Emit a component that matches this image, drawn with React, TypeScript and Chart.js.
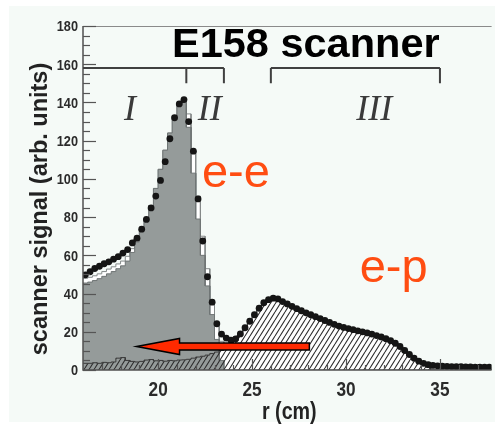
import React, { useEffect, useRef } from "react";
import { Chart, registerables } from "chart.js";

Chart.register(...registerables);

// Histogram binning along the scanner radius (cm)
const BIN_START = 16;
const BIN_WIDTH = 0.25;
const R_MIN = 16;
const R_MAX = 37.75;

// Simulated e-e (Møller) signal per bin
const eeSignal = [
  45.5, 46, 46.8, 47.8, 49, 50.3, 51.5, 53, 54.5, 57, 61.5, 67,
  73.5, 79.5, 86, 95, 105, 115, 124, 133, 139, 142, 127, 103,
  79, 60, 44, 29, 16, 5, 0, 0, 0, 0, 0, 0,
  0, 0, 0, 0, 0, 0, 0, 0, 0, 0, 0, 0,
  0, 0, 0, 0, 0, 0, 0, 0, 0, 0, 0, 0,
  0, 0, 0, 0, 0, 0, 0, 0, 0, 0, 0, 0,
  0, 0, 0, 0, 0, 0, 0, 0, 0, 0, 0, 0,
  0, 0, 0,
];

// Simulated e-p (elastic + inelastic) signal per bin
const epSignal = [
  3.5, 3.5, 3.8, 3.5, 4, 3.8, 4.2, 6.2, 6.5, 5, 4.5, 4.2,
  4.5, 5.2, 5.5, 4.8, 5, 4.6, 5, 4.8, 5.2, 5.3, 5.6, 6.2,
  6.8, 7.2, 7.8, 8.6, 9.4, 10.2, 12, 13.8, 15.2, 18, 21.2, 24.6,
  28, 31.4, 34.3, 35.9, 36.7, 36.3, 35, 33.8, 32.5, 31.3, 30.2, 29.1,
  28.1, 27.1, 26.1, 25.1, 24.1, 23.1, 22.2, 21.5, 20.9, 20.3, 19.7, 19.2,
  18.6, 18, 17.2, 16.5, 15.6, 14.5, 13.2, 11.5, 9.4, 7.3, 5.4, 3.8,
  2.7, 2.0, 0, 0, 0, 0, 0, 0, 0, 0, 0, 0,
  0, 0, 0,
];

// Total simulated signal (outline histogram)
const simTotal = [
  48, 48.5, 49.3, 50.3, 51.5, 52.8, 54, 55.5, 57, 59.5, 63.5, 68.5,
  73.5, 79.5, 86, 95, 105, 115, 124, 133, 139, 142, 134, 115,
  91, 70, 53, 36, 23, 15, 12.3, 13.8, 15.2, 18, 21.2, 24.6,
  28, 31.4, 34.3, 35.9, 36.7, 36.3, 35, 33.8, 32.5, 31.3, 30.2, 29.1,
  28.1, 27.1, 26.1, 25.1, 24.1, 23.1, 22.2, 21.5, 20.9, 20.3, 19.7, 19.2,
  18.6, 18, 17.2, 16.5, 15.6, 14.5, 13.2, 11.5, 9.4, 7.3, 5.4, 3.8,
  2.7, 2.0, 1.2, 1.0, 1.0, 1.0, 1.0, 1.0, 1.0, 1.0, 1.0, 1.0,
  1.0, 1.0, 1.0,
];

// Measured scanner signal at bin centres
const measured = [
  49.8, 51.4, 53.1, 54.3, 55.6, 56.6, 58.0, 59.3, 61.2, 63.0, 66.5, 69.0,
  73.7, 78.8, 84.8, 91.0, 99.2, 109, 121, 132, 139.2, 141.5, 130, 114.5,
  89.5, 67.5, 48.8, 35.5, 24.2, 18.8, 16.7, 15.6, 16.3, 18.9, 22.1, 25.5,
  28.9, 32.3, 35.2, 36.8, 37.6, 37.2, 35.8, 34.6, 33.3, 32.1, 31.0, 29.9,
  28.9, 27.9, 26.9, 25.9, 24.9, 23.9, 23.0, 22.3, 21.7, 21.1, 20.5, 20.0,
  19.4, 18.8, 18.0, 17.3, 16.4, 15.3, 14.0, 12.3, 10.2, 8.1, 6.2, 4.6,
  3.5, 2.8, 2.4, 2.2, 2.0, 1.9, 1.8, 1.7, 1.7, 1.6, 1.6, 1.5,
  1.5, 1.5, 1.5,
];

const xTickValues = [20, 25, 30, 35];
const yTickValues = [0, 20, 40, 60, 80, 100, 120, 140, 160, 180];

// Detector regions: bracket spans and their labels
const bracketLevel = 158;
const bracketDrop = 150;
const brackets = [
  { from: 16, to: 23.5, drops: [21.5, 23.5] },
  { from: 26, to: 35, drops: [26, 35] },
];
const regionLabels = [
  { text: "I", r: 18.5 },
  { text: "II", r: 22.75 },
  { text: "III", r: 31.5 },
];

// Annotation texts
const titleText = "E158 scanner";
const xTitle = "r (cm)";
const yTitle = "scanner signal (arb. units)";
const eeLabel = { text: "e-e", r: 22.33, v: 95.8 };
const epLabel = { text: "e-p", r: 30.73, v: 46.2 };
const arrow = { fromR: 28.05, toR: 18.85, level: 12.3 };

const SANS = "'Liberation Sans', Arial, sans-serif";
const SERIF = "'Liberation Serif', 'Times New Roman', serif";
const NARROW_SCALE = 0.82;
const DOT_COLOR = "#151515";

function stepPoints(values: number[]) {
  const pts: { x: number; y: number }[] = [];
  values.forEach((v, i) => {
    const x0 = BIN_START + i * BIN_WIDTH;
    pts.push({ x: x0, y: v }, { x: x0 + BIN_WIDTH, y: v });
  });
  return pts;
}

function centrePoints(values: number[]) {
  return values.map((v, i) => ({ x: BIN_START + (i + 0.5) * BIN_WIDTH, y: v }));
}

function makeHatch(): CanvasPattern | string {
  const c = document.createElement("canvas");
  const w = 5;
  const h = 8;
  c.width = w;
  c.height = h;
  const g = c.getContext("2d");
  if (!g) return "rgba(0,0,0,0.3)";
  g.strokeStyle = "#2e2e2e";
  g.lineWidth = 1.1;
  g.beginPath();
  for (let k = -1; k <= 1; k++) {
    g.moveTo(k * w, h);
    g.lineTo(k * w + w, 0);
  }
  g.stroke();
  const p = g.createPattern(c, "repeat");
  return p || "rgba(0,0,0,0.3)";
}

// Condensed text: regular face squeezed horizontally
function narrowText(ctx: CanvasRenderingContext2D, text: string, x: number, y: number, align: "left" | "right" | "center") {
  ctx.save();
  ctx.translate(x, y);
  ctx.scale(NARROW_SCALE, 1);
  ctx.textAlign = align;
  ctx.fillText(text, 0, 0);
  ctx.restore();
}

const backgroundPlugin = {
  id: "paper",
  beforeDraw(chart: any) {
    const { ctx, width, height } = chart;
    ctx.save();
    ctx.fillStyle = "#ffffff";
    ctx.fillRect(0, 0, width, height);
    ctx.fillStyle = "#f5faf7";
    ctx.fillRect(9, 6, width - 9, height - 12);
    ctx.restore();
  },
};

const framePlugin = {
  id: "frame",
  afterDatasetsDraw(chart: any) {
    const { ctx, chartArea, scales } = chart;
    const xs = scales.x;
    const ys = scales.y;
    const { left, right, top, bottom } = chartArea;
    ctx.save();

    // frame
    ctx.strokeStyle = "#8a8a8a";
    ctx.lineWidth = 1;
    ctx.beginPath();
    ctx.moveTo(left, top + 0.5);
    ctx.lineTo(right, top + 0.5);
    ctx.stroke();
    ctx.strokeStyle = "#505050";
    ctx.lineWidth = 1.5;
    ctx.beginPath();
    ctx.moveTo(left, top);
    ctx.lineTo(left, bottom);
    ctx.lineTo(right, bottom);
    ctx.stroke();

    // y ticks, inside the frame
    ctx.strokeStyle = "#555";
    ctx.lineWidth = 1.2;
    for (let v = 0; v <= 180; v += 5) {
      const y = Math.round(ys.getPixelForValue(v)) + 0.5;
      const len = v % 20 === 0 ? 13 : 7;
      ctx.beginPath();
      ctx.moveTo(left, y);
      ctx.lineTo(left + len, y);
      ctx.stroke();
    }
    // x ticks, inside the frame
    for (let r = 17; r <= 37; r += 1) {
      const x = Math.round(xs.getPixelForValue(r)) + 0.5;
      const len = r % 5 === 0 ? 11 : 5;
      ctx.beginPath();
      ctx.moveTo(x, bottom);
      ctx.lineTo(x, bottom - len);
      ctx.stroke();
    }

    // tick labels
    ctx.fillStyle = "#2b2b2b";
    ctx.textBaseline = "middle";
    ctx.font = `bold 15.5px ${SANS}`;
    yTickValues.forEach((v) => {
      narrowText(ctx, String(v), left - 5, ys.getPixelForValue(v) + 1, "right");
    });
    ctx.font = `bold 21px ${SANS}`;
    xTickValues.forEach((v) => {
      narrowText(ctx, String(v), xs.getPixelForValue(v), bottom + 20, "center");
    });

    // region brackets
    ctx.strokeStyle = "#404040";
    ctx.lineWidth = 2;
    const yb = ys.getPixelForValue(bracketLevel);
    const yd = ys.getPixelForValue(bracketDrop);
    brackets.forEach((b) => {
      ctx.beginPath();
      ctx.moveTo(xs.getPixelForValue(b.from), yb);
      ctx.lineTo(xs.getPixelForValue(b.to), yb);
      b.drops.forEach((d) => {
        const x = xs.getPixelForValue(d);
        ctx.moveTo(x, yb);
        ctx.lineTo(x, yd);
      });
      ctx.stroke();
    });

    // region labels
    ctx.fillStyle = "#3a3a3a";
    ctx.font = `italic 36px ${SERIF}`;
    ctx.textAlign = "center";
    ctx.textBaseline = "alphabetic";
    regionLabels.forEach((l) => {
      ctx.fillText(l.text, xs.getPixelForValue(l.r), 120);
    });

    // red arrow
    const x0 = xs.getPixelForValue(arrow.fromR);
    const x1 = xs.getPixelForValue(arrow.toR);
    const ya = ys.getPixelForValue(arrow.level);
    const headLen = 43;
    const headHalf = 8;
    const shaftHalf = 3.5;
    ctx.beginPath();
    ctx.moveTo(x1, ya);
    ctx.lineTo(x1 + headLen, ya - headHalf);
    ctx.lineTo(x1 + headLen, ya - shaftHalf);
    ctx.lineTo(x0, ya - shaftHalf);
    ctx.lineTo(x0, ya + shaftHalf);
    ctx.lineTo(x1 + headLen, ya + shaftHalf);
    ctx.lineTo(x1 + headLen, ya + headHalf);
    ctx.closePath();
    ctx.fillStyle = "#ff2a00";
    ctx.fill();
    ctx.strokeStyle = "#000";
    ctx.lineWidth = 1.5;
    ctx.stroke();

    // process labels
    ctx.fillStyle = "#ff4d12";
    ctx.font = `47px ${SANS}`;
    ctx.textAlign = "left";
    ctx.fillText(eeLabel.text, xs.getPixelForValue(eeLabel.r), ys.getPixelForValue(eeLabel.v));
    ctx.fillText(epLabel.text, xs.getPixelForValue(epLabel.r), ys.getPixelForValue(epLabel.v));

    // title
    ctx.fillStyle = "#000";
    ctx.font = `bold 41.5px ${SANS}`;
    ctx.fillText(titleText, 172, 57);

    // axis titles
    ctx.fillStyle = "#222";
    ctx.font = `bold 23.5px ${SANS}`;
    ctx.textAlign = "center";
    ctx.save();
    ctx.translate(47, 209);
    ctx.rotate(-Math.PI / 2);
    ctx.fillText(yTitle, 0, 0);
    ctx.restore();
    ctx.font = `bold 24px ${SANS}`;
    narrowText(ctx, xTitle, (left + right) / 2 + 2, 419, "center");

    ctx.restore();
  },
};

export default function App() {
  const canvasRef = useRef<HTMLCanvasElement | null>(null);

  useEffect(() => {
    const canvas = canvasRef.current;
    if (!canvas) return;
    const hatch = makeHatch();

    const chart = new Chart(canvas, {
      type: "line",
      data: {
        datasets: [
          {
            label: "data",
            data: centrePoints(measured),
            showLine: true,
            borderWidth: 3,
            borderColor: DOT_COLOR,
            // densely sampled, slowly varying stretches read as a solid band of markers
            segment: {
              borderColor: (c: any) =>
                Math.abs(c.p0.y - c.p1.y) < 5 ? DOT_COLOR : "rgba(0,0,0,0)",
            },
            fill: false,
            tension: 0,
            pointRadius: 3.4,
            pointHoverRadius: 3.4,
            pointBackgroundColor: DOT_COLOR,
            pointBorderWidth: 0,
            order: 0,
          },
          {
            label: "e-p",
            data: stepPoints(epSignal),
            borderColor: "#3a3a3a",
            borderWidth: 1,
            backgroundColor: hatch as any,
            fill: "origin",
            pointRadius: 0,
            tension: 0,
            order: 1,
          },
          {
            label: "e-e",
            data: stepPoints(eeSignal),
            borderColor: "#6f7575",
            borderWidth: 1,
            backgroundColor: "#959b9a",
            fill: "origin",
            pointRadius: 0,
            tension: 0,
            order: 2,
          },
          {
            label: "total",
            data: stepPoints(simTotal),
            borderColor: "#858a8a",
            borderWidth: 1,
            backgroundColor: "#ffffff",
            fill: "origin",
            pointRadius: 0,
            tension: 0,
            order: 3,
          },
        ],
      },
      options: {
        animation: false,
        responsive: false,
        maintainAspectRatio: false,
        events: [],
        layout: { padding: { top: 26, right: 0, left: 0, bottom: 0 } },
        plugins: {
          legend: { display: false },
          tooltip: { enabled: false },
          title: { display: false },
        },
        scales: {
          x: {
            type: "linear",
            min: R_MIN,
            max: R_MAX,
            afterBuildTicks: (s: any) => {
              s.ticks = xTickValues.map((v) => ({ value: v }));
            },
            afterFit: (s: any) => {
              s.height = 58;
            },
            grid: { display: false, drawTicks: false },
            border: { display: false },
            ticks: { display: false },
          },
          y: {
            type: "linear",
            min: 0,
            max: 180,
            afterBuildTicks: (s: any) => {
              s.ticks = yTickValues.map((v) => ({ value: v }));
            },
            afterFit: (s: any) => {
              s.width = 83;
            },
            grid: { display: false, drawTicks: false },
            border: { display: false },
            ticks: { display: false },
          },
        },
      },
      plugins: [backgroundPlugin, framePlugin],
    });

    return () => {
      chart.destroy();
    };
  }, []);

  return (
    <div
      style={{
        position: "fixed",
        left: 0,
        top: 0,
        width: 495,
        height: 428,
        background: "#fff",
      }}
    >
      <canvas ref={canvasRef} width={495} height={428} style={{ width: 495, height: 428, display: "block" }} />
    </div>
  );
}
